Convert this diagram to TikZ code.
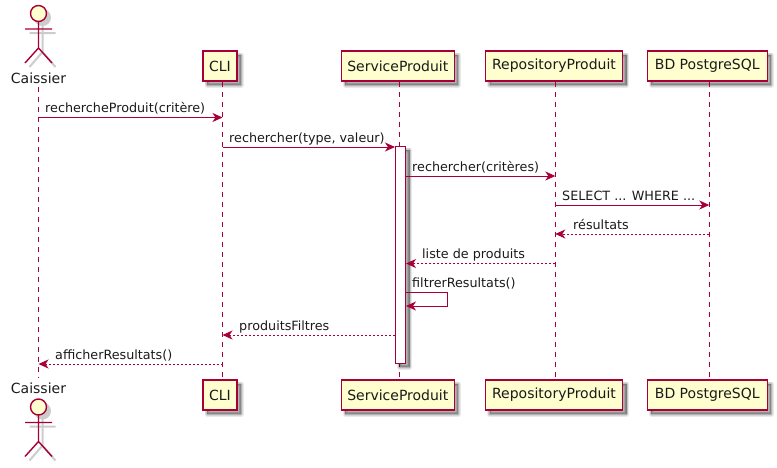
\documentclass[tikz,border=0pt]{standalone}
\usepackage{fontspec}
\setmainfont{DejaVu Sans}
\usetikzlibrary{arrows.meta,calc}
\definecolor{pu}{HTML}{A80036}
\definecolor{pf}{HTML}{FEFECE}
\definecolor{ink}{HTML}{1A1A1A}
\tikzset{
  softlayer/.style={preaction={draw=black,fill=black,line join=round,line width=#1,solid,opacity=.085,
      transform canvas={shift={(4pt,-4pt)}}}},
  softshadow/.style={softlayer=5pt,softlayer=3.6pt,softlayer=2.2pt,softlayer=.8pt},
  box/.style={draw=pu,fill=pf,line width=1.25pt,inner sep=0pt,minimum height=30pt,text=ink,
    font=\fontsize{14}{16}\selectfont,softshadow},
  actorlabel/.style={inner sep=0pt,minimum height=14pt,text height=10.5pt,text depth=3pt,text=ink,
    font=\fontsize{14}{16}\selectfont},
  life/.style={draw=pu,line width=.9pt,dash pattern=on 5pt off 5pt},
  bar/.style={draw=pu,fill=white,line width=1pt,inner sep=0pt,minimum width=10pt,minimum height=217pt,softshadow},
  msg/.style={draw=pu,line width=1pt,-{Stealth[length=10pt,width=9pt,inset=3pt,fill=pu]}},
  ret/.style={msg,line width=.9pt,dash pattern=on 2pt off 2pt},
  lbl/.style={anchor=base west,inner sep=0pt,text=ink,font=\fontsize{12.75}{15}\selectfont},
  actorline/.style={draw=pu,line width=1.4pt},
  actorshadow/.style={draw=black!20,line width=2pt},
}
\newcommand{\stickman}[1]{%
  \begin{scope}[shift={(38.5,#1)}]
    \begin{scope}[shift={(4,-4)}]
      \fill[black!20] (0,-13.5) circle (8.5);
      \draw[actorshadow] (0,-21.5) -- (0,-48) (-13,-29) -- (13,-29) (0,-48) -- (-13,-63) (0,-48) -- (13,-63);
    \end{scope}
    \draw[actorline,fill=pf] (0,-13.5) circle (8);
    \draw[actorline] (0,-21.5) -- (0,-48) (-13.5,-29) -- (13.5,-29) (0,-48) -- (-13.5,-63) (0,-48) -- (13.5,-63);
  \end{scope}}
\begin{document}
\begin{tikzpicture}[x=1pt,y=1pt]
\useasboundingbox (0,0) rectangle (777,-467);
% positions of the messages
\coordinate (m1) at (0,-117.5);
\coordinate (m2) at (0,-147);
\coordinate (m3) at (0,-176);
\coordinate (m4) at (0,-205);
\coordinate (m5) at (0,-234);
\coordinate (m6) at (0,-263.5);
\coordinate (m7) at (0,-292.5);
\coordinate (m7b) at (0,-306);
\coordinate (m8) at (0,-335);
\coordinate (m9) at (0,-364);
\coordinate (loop) at (447,0);
% actors
\stickman{0}
\stickman{-393.5}
\node[actorlabel] (cai1) at (38.5,-79.5) {Caissier};
\node[actorlabel] (cai2) at (38.5,-389.5) {Caissier};
% participants
\node[box,minimum width=34pt]  (cli1) at (220,-66) {CLI};
\node[box,minimum width=113pt] (ser1) at (397.8,-66) {ServiceProduit};
\node[box,minimum width=137pt] (rep1) at (554,-66) {RepositoryProduit};
\node[box,minimum width=120pt] (bd1)  at (707.3,-66) {BD PostgreSQL};
\node[box,minimum width=34pt]  (cli2) at (220,-395) {CLI};
\node[box,minimum width=113pt] (ser2) at (397.8,-395) {ServiceProduit};
\node[box,minimum width=137pt] (rep2) at (554,-395) {RepositoryProduit};
\node[box,minimum width=120pt] (bd2)  at (707.3,-395) {BD PostgreSQL};
% lifelines
\coordinate (cl) at ($(cli1.south)+(2.5,0)$);
\coordinate (clb) at ($(cli2.north)+(2.5,0)$);
\coordinate (sl) at ($(ser1.south)+(1.5,0)$);
\coordinate (slb) at ($(ser2.north)+(1.5,0)$);
\coordinate (rl) at ($(rep1.south)+(1.3,0)$);
\coordinate (rlb) at ($(rep2.north)+(1.3,0)$);
\coordinate (bl) at ($(bd1.south)+(2,0)$);
\coordinate (blb) at ($(bd2.north)+(2,0)$);
\draw[life,shorten >=4pt] (cai1.south) -- (cai2.north);
\draw[life] (cl) -- (clb);
\draw[life] (sl) -- (slb);
\draw[life] (rl) -- (rlb);
\draw[life] (bl) -- (blb);
% activation
\node[bar] (act) at (400.5,-254.5) {};
% messages
\draw[msg] (cai1 |- m1) -- (cl |- m1);
\draw[msg] (cl |- m2) -- (act.west |- m2);
\draw[msg] (act.east |- m3) -- (rl |- m3);
\draw[msg] (rl |- m4) -- (bl |- m4);
\draw[ret] (bl |- m5) -- (rl |- m5);
\draw[ret] (rl |- m6) -- (act.east |- m6);
\draw[msg] (act.east |- m7) -- (loop |- m7) -- (loop |- m7b) -- (act.east |- m7b);
\draw[ret] (act.west |- m8) -- (cl |- m8);
\draw[ret] (cl |- m9) -- (cai1 |- m9);
% labels
\node[lbl] (t1) at (45,-112.5) {rechercheProduit(critère)};
\node[lbl] (t2) at (229,-142) {rechercher(type, valeur)};
\node[lbl] (t3) at (412,-171.5) {rechercher(critères)};
\node[lbl] (t4) at (562,-200.5) {SELECT ... WHERE ...};
\node[lbl] (t5) at (573,-229.5) {résultats};
\node[lbl] (t6) at (422,-258.5) {liste de produits};
\node[lbl] (t7) at (412,-287.5) {filtrerResultats()};
\node[lbl] (t8) at (239,-330.5) {produitsFiltres};
\node[lbl] (t9) at (55,-359.5) {afficherResultats()};
\end{tikzpicture}
\end{document}
